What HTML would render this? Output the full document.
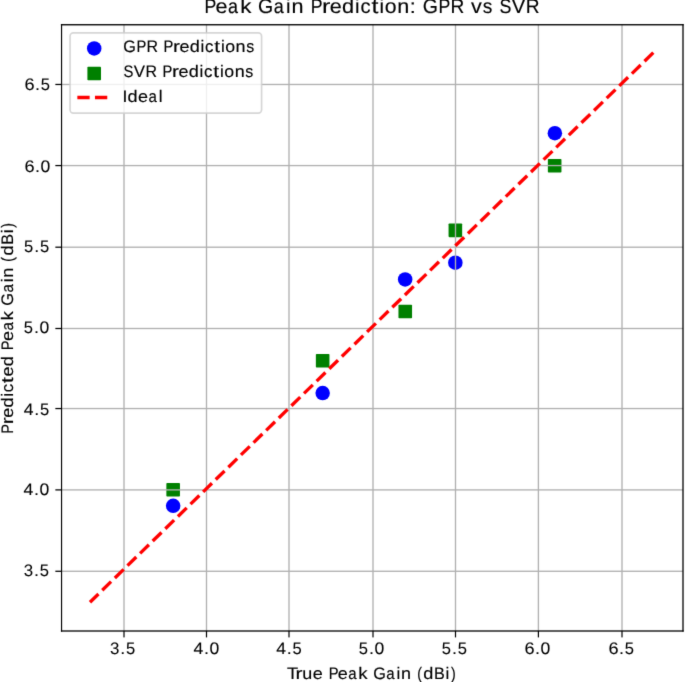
<!DOCTYPE html><html><head><meta charset="utf-8"><title>Peak Gain Prediction: GPR vs SVR</title><style>html,body{margin:0;padding:0;background:#fff;overflow:hidden;}svg{display:block;will-change:transform;}text{text-rendering:geometricPrecision;font-family:"Liberation Sans",sans-serif;fill:#000;stroke:#000;stroke-width:0.15px;}text.t{stroke-width:0.08px;}</style></head><body>
<svg width="685" height="682" viewBox="0 0 685 682">
<defs><filter id="soft" x="0" y="0" width="685" height="682" filterUnits="userSpaceOnUse" color-interpolation-filters="sRGB"><feConvolveMatrix order="3" kernelMatrix="0.0100 0.0800 0.0100 0.0800 0.6400 0.0800 0.0100 0.0800 0.0100" divisor="1" edgeMode="duplicate" preserveAlpha="true"/></filter></defs>
<g filter="url(#soft)">
<rect x="0" y="0" width="685" height="682" fill="#fff"/>
<circle cx="173.16" cy="505.77" r="7.25" fill="#0000ff"/>
<circle cx="322.66" cy="393.03" r="7.25" fill="#0000ff"/>
<circle cx="405.16" cy="279.40" r="7.25" fill="#0000ff"/>
<circle cx="455.36" cy="262.63" r="7.25" fill="#0000ff"/>
<circle cx="554.86" cy="133.22" r="7.25" fill="#0000ff"/>
<rect x="166.36" y="482.99" width="13.6" height="13.6" rx="0.8" fill="#008000"/>
<rect x="315.86" y="353.88" width="13.6" height="13.6" rx="0.8" fill="#008000"/>
<rect x="398.46" y="304.75" width="13.6" height="13.6" rx="0.8" fill="#008000"/>
<rect x="448.56" y="223.57" width="13.6" height="13.6" rx="0.8" fill="#008000"/>
<rect x="547.86" y="158.97" width="13.6" height="13.6" rx="0.8" fill="#008000"/>
<g>
<rect x="123.335" y="24.75" width="1.330" height="606.25" fill="#b0b0b0"/>
<rect x="205.835" y="24.75" width="1.330" height="606.25" fill="#b0b0b0"/>
<rect x="288.335" y="24.75" width="1.330" height="606.25" fill="#b0b0b0"/>
<rect x="372.335" y="24.75" width="1.330" height="606.25" fill="#b0b0b0"/>
<rect x="454.835" y="24.75" width="1.330" height="606.25" fill="#b0b0b0"/>
<rect x="537.735" y="24.75" width="1.330" height="606.25" fill="#b0b0b0"/>
<rect x="621.335" y="24.75" width="1.330" height="606.25" fill="#b0b0b0"/>
<rect x="61.55" y="83.805" width="621.45" height="1.330" fill="#b0b0b0"/>
<rect x="61.55" y="164.905" width="621.45" height="1.330" fill="#b0b0b0"/>
<rect x="61.55" y="246.535" width="621.45" height="1.330" fill="#b0b0b0"/>
<rect x="61.55" y="327.835" width="621.45" height="1.330" fill="#b0b0b0"/>
<rect x="61.55" y="407.885" width="621.45" height="1.330" fill="#b0b0b0"/>
<rect x="61.55" y="489.235" width="621.45" height="1.330" fill="#b0b0b0"/>
<rect x="61.55" y="570.615" width="621.45" height="1.330" fill="#b0b0b0"/>
<rect x="123.400" y="631.00" width="1.200" height="6.40" fill="#000"/>
<rect x="205.900" y="631.00" width="1.200" height="6.40" fill="#000"/>
<rect x="288.400" y="631.00" width="1.200" height="6.40" fill="#000"/>
<rect x="372.400" y="631.00" width="1.200" height="6.40" fill="#000"/>
<rect x="454.900" y="631.00" width="1.200" height="6.40" fill="#000"/>
<rect x="537.800" y="631.00" width="1.200" height="6.40" fill="#000"/>
<rect x="621.400" y="631.00" width="1.200" height="6.40" fill="#000"/>
<rect x="55.35" y="83.845" width="6.20" height="1.250" fill="#000"/>
<rect x="55.35" y="164.945" width="6.20" height="1.250" fill="#000"/>
<rect x="55.35" y="246.575" width="6.20" height="1.250" fill="#000"/>
<rect x="55.35" y="327.875" width="6.20" height="1.250" fill="#000"/>
<rect x="55.35" y="407.925" width="6.20" height="1.250" fill="#000"/>
<rect x="55.35" y="489.275" width="6.20" height="1.250" fill="#000"/>
<rect x="55.35" y="570.655" width="6.20" height="1.250" fill="#000"/>
</g>
<path d="M90.0 602.2L654.0 52.0" stroke="#ff0000" stroke-width="3.33" stroke-dasharray="12.299 5.318" stroke-dashoffset="0.5" fill="none"/>
<rect x="60.975" y="24.10" width="1.150" height="607.55" fill="#000"/>
<rect x="682.350" y="24.10" width="1.300" height="607.55" fill="#000"/>
<rect x="60.90" y="24.075" width="622.75" height="1.350" fill="#000"/>
<rect x="60.90" y="630.350" width="622.75" height="1.300" fill="#000"/>
<text y="654.00" font-size="16.67" class="t"><tspan x="110.08" textLength="9.38" lengthAdjust="spacingAndGlyphs">3</tspan><tspan x="120.20" textLength="5.01" lengthAdjust="spacingAndGlyphs">.</tspan><tspan x="125.98" textLength="9.22" lengthAdjust="spacingAndGlyphs">5</tspan></text>
<text y="654.00" font-size="16.67" class="t"><tspan x="193.62" textLength="9.77" lengthAdjust="spacingAndGlyphs">4</tspan><tspan x="203.95" textLength="5.01" lengthAdjust="spacingAndGlyphs">.</tspan><tspan x="209.52" textLength="9.77" lengthAdjust="spacingAndGlyphs">0</tspan></text>
<text y="654.00" font-size="16.67" class="t"><tspan x="276.37" textLength="9.77" lengthAdjust="spacingAndGlyphs">4</tspan><tspan x="286.70" textLength="5.01" lengthAdjust="spacingAndGlyphs">.</tspan><tspan x="292.48" textLength="9.22" lengthAdjust="spacingAndGlyphs">5</tspan></text>
<text y="654.00" font-size="16.67" class="t"><tspan x="358.83" textLength="9.22" lengthAdjust="spacingAndGlyphs">5</tspan><tspan x="368.95" textLength="5.01" lengthAdjust="spacingAndGlyphs">.</tspan><tspan x="374.52" textLength="9.77" lengthAdjust="spacingAndGlyphs">0</tspan></text>
<text y="654.00" font-size="16.67" class="t"><tspan x="441.83" textLength="9.22" lengthAdjust="spacingAndGlyphs">5</tspan><tspan x="451.95" textLength="5.01" lengthAdjust="spacingAndGlyphs">.</tspan><tspan x="457.73" textLength="9.22" lengthAdjust="spacingAndGlyphs">5</tspan></text>
<text y="654.00" font-size="16.67" class="t"><tspan x="524.45" textLength="10.11" lengthAdjust="spacingAndGlyphs">6</tspan><tspan x="534.95" textLength="5.01" lengthAdjust="spacingAndGlyphs">.</tspan><tspan x="540.52" textLength="9.77" lengthAdjust="spacingAndGlyphs">0</tspan></text>
<text y="654.00" font-size="16.67" class="t"><tspan x="608.45" textLength="10.11" lengthAdjust="spacingAndGlyphs">6</tspan><tspan x="618.95" textLength="5.01" lengthAdjust="spacingAndGlyphs">.</tspan><tspan x="624.73" textLength="9.22" lengthAdjust="spacingAndGlyphs">5</tspan></text>
<text y="90.00" font-size="16.67" class="t"><tspan x="24.43" textLength="10.11" lengthAdjust="spacingAndGlyphs">6</tspan><tspan x="34.93" textLength="5.01" lengthAdjust="spacingAndGlyphs">.</tspan><tspan x="40.72" textLength="9.22" lengthAdjust="spacingAndGlyphs">5</tspan></text>
<text y="172.00" font-size="16.67" class="t"><tspan x="24.43" textLength="10.11" lengthAdjust="spacingAndGlyphs">6</tspan><tspan x="34.93" textLength="5.01" lengthAdjust="spacingAndGlyphs">.</tspan><tspan x="40.51" textLength="9.77" lengthAdjust="spacingAndGlyphs">0</tspan></text>
<text y="252.00" font-size="16.67" class="t"><tspan x="24.07" textLength="9.22" lengthAdjust="spacingAndGlyphs">5</tspan><tspan x="34.18" textLength="5.01" lengthAdjust="spacingAndGlyphs">.</tspan><tspan x="39.97" textLength="9.22" lengthAdjust="spacingAndGlyphs">5</tspan></text>
<text y="333.00" font-size="16.67" class="t"><tspan x="23.82" textLength="9.22" lengthAdjust="spacingAndGlyphs">5</tspan><tspan x="33.93" textLength="5.01" lengthAdjust="spacingAndGlyphs">.</tspan><tspan x="39.51" textLength="9.77" lengthAdjust="spacingAndGlyphs">0</tspan></text>
<text y="415.00" font-size="16.67" class="t"><tspan x="23.85" textLength="9.77" lengthAdjust="spacingAndGlyphs">4</tspan><tspan x="34.18" textLength="5.01" lengthAdjust="spacingAndGlyphs">.</tspan><tspan x="39.97" textLength="9.22" lengthAdjust="spacingAndGlyphs">5</tspan></text>
<text y="495.00" font-size="16.67" class="t"><tspan x="23.60" textLength="9.77" lengthAdjust="spacingAndGlyphs">4</tspan><tspan x="33.93" textLength="5.01" lengthAdjust="spacingAndGlyphs">.</tspan><tspan x="39.51" textLength="9.77" lengthAdjust="spacingAndGlyphs">0</tspan></text>
<text y="576.00" font-size="16.67" class="t"><tspan x="23.82" textLength="9.38" lengthAdjust="spacingAndGlyphs">3</tspan><tspan x="33.93" textLength="5.01" lengthAdjust="spacingAndGlyphs">.</tspan><tspan x="39.72" textLength="9.22" lengthAdjust="spacingAndGlyphs">5</tspan></text>
<text y="679.00" font-size="16.67"><tspan x="287.09" textLength="11.10" lengthAdjust="spacingAndGlyphs">T</tspan><tspan x="295.43" textLength="6.94" lengthAdjust="spacingAndGlyphs">r</tspan><tspan x="302.33" textLength="9.99" lengthAdjust="spacingAndGlyphs">u</tspan><tspan x="312.80" textLength="10.01" lengthAdjust="spacingAndGlyphs">e</tspan><tspan x="322.90"> </tspan><tspan x="328.63" textLength="9.83" lengthAdjust="spacingAndGlyphs">P</tspan><tspan x="337.78" textLength="10.01" lengthAdjust="spacingAndGlyphs">e</tspan><tspan x="348.24" textLength="8.34" lengthAdjust="spacingAndGlyphs">a</tspan><tspan x="358.35" textLength="9.32" lengthAdjust="spacingAndGlyphs">k</tspan><tspan x="367.74"> </tspan><tspan x="373.16" textLength="12.64" lengthAdjust="spacingAndGlyphs">G</tspan><tspan x="386.32" textLength="8.34" lengthAdjust="spacingAndGlyphs">a</tspan><tspan x="396.60" textLength="3.79" lengthAdjust="spacingAndGlyphs">i</tspan><tspan x="401.12" textLength="9.99" lengthAdjust="spacingAndGlyphs">n</tspan><tspan x="411.36"> </tspan><tspan x="417.22" textLength="4.69" lengthAdjust="spacingAndGlyphs">(</tspan><tspan x="423.32" textLength="10.07" lengthAdjust="spacingAndGlyphs">d</tspan><tspan x="434.05" textLength="10.80" lengthAdjust="spacingAndGlyphs">B</tspan><tspan x="445.61" textLength="3.79" lengthAdjust="spacingAndGlyphs">i</tspan><tspan x="451.06" textLength="4.69" lengthAdjust="spacingAndGlyphs">)</tspan></text>
<text transform="translate(13.00 0.00) rotate(-90)" y="0.00" font-size="16.67"><tspan x="-433.81" textLength="9.83" lengthAdjust="spacingAndGlyphs">P</tspan><tspan x="-424.24" textLength="6.94" lengthAdjust="spacingAndGlyphs">r</tspan><tspan x="-417.81" textLength="10.01" lengthAdjust="spacingAndGlyphs">e</tspan><tspan x="-407.55" textLength="10.07" lengthAdjust="spacingAndGlyphs">d</tspan><tspan x="-396.70" textLength="3.79" lengthAdjust="spacingAndGlyphs">i</tspan><tspan x="-392.29" textLength="8.36" lengthAdjust="spacingAndGlyphs">c</tspan><tspan x="-383.02" textLength="5.79" lengthAdjust="spacingAndGlyphs">t</tspan><tspan x="-376.64" textLength="10.01" lengthAdjust="spacingAndGlyphs">e</tspan><tspan x="-366.39" textLength="10.07" lengthAdjust="spacingAndGlyphs">d</tspan><tspan x="-355.97"> </tspan><tspan x="-350.24" textLength="9.83" lengthAdjust="spacingAndGlyphs">P</tspan><tspan x="-341.09" textLength="10.01" lengthAdjust="spacingAndGlyphs">e</tspan><tspan x="-330.62" textLength="8.34" lengthAdjust="spacingAndGlyphs">a</tspan><tspan x="-320.52" textLength="9.32" lengthAdjust="spacingAndGlyphs">k</tspan><tspan x="-311.12"> </tspan><tspan x="-305.71" textLength="12.64" lengthAdjust="spacingAndGlyphs">G</tspan><tspan x="-292.54" textLength="8.34" lengthAdjust="spacingAndGlyphs">a</tspan><tspan x="-282.26" textLength="3.79" lengthAdjust="spacingAndGlyphs">i</tspan><tspan x="-277.74" textLength="9.99" lengthAdjust="spacingAndGlyphs">n</tspan><tspan x="-267.50"> </tspan><tspan x="-261.64" textLength="4.69" lengthAdjust="spacingAndGlyphs">(</tspan><tspan x="-255.54" textLength="10.07" lengthAdjust="spacingAndGlyphs">d</tspan><tspan x="-244.81" textLength="10.80" lengthAdjust="spacingAndGlyphs">B</tspan><tspan x="-233.26" textLength="3.79" lengthAdjust="spacingAndGlyphs">i</tspan><tspan x="-227.80" textLength="4.69" lengthAdjust="spacingAndGlyphs">)</tspan></text>
<text y="13.00" font-size="20.00"><tspan x="204.55" textLength="11.80" lengthAdjust="spacingAndGlyphs">P</tspan><tspan x="215.54" textLength="12.01" lengthAdjust="spacingAndGlyphs">e</tspan><tspan x="228.09" textLength="10.00" lengthAdjust="spacingAndGlyphs">a</tspan><tspan x="240.22" textLength="11.18" lengthAdjust="spacingAndGlyphs">k</tspan><tspan x="251.49"> </tspan><tspan x="257.99" textLength="15.17" lengthAdjust="spacingAndGlyphs">G</tspan><tspan x="273.79" textLength="10.00" lengthAdjust="spacingAndGlyphs">a</tspan><tspan x="286.12" textLength="4.54" lengthAdjust="spacingAndGlyphs">i</tspan><tspan x="291.55" textLength="11.99" lengthAdjust="spacingAndGlyphs">n</tspan><tspan x="303.84"> </tspan><tspan x="310.71" textLength="11.80" lengthAdjust="spacingAndGlyphs">P</tspan><tspan x="322.11" textLength="8.33" lengthAdjust="spacingAndGlyphs">r</tspan><tspan x="329.79" textLength="12.01" lengthAdjust="spacingAndGlyphs">e</tspan><tspan x="342.10" textLength="12.09" lengthAdjust="spacingAndGlyphs">d</tspan><tspan x="355.12" textLength="4.54" lengthAdjust="spacingAndGlyphs">i</tspan><tspan x="360.41" textLength="10.03" lengthAdjust="spacingAndGlyphs">c</tspan><tspan x="371.53" textLength="6.95" lengthAdjust="spacingAndGlyphs">t</tspan><tspan x="379.51" textLength="4.54" lengthAdjust="spacingAndGlyphs">i</tspan><tspan x="384.76" textLength="11.82" lengthAdjust="spacingAndGlyphs">o</tspan><tspan x="397.17" textLength="11.99" lengthAdjust="spacingAndGlyphs">n</tspan><tspan x="409.83" textLength="6.01" lengthAdjust="spacingAndGlyphs">:</tspan><tspan x="416.20"> </tspan><tspan x="422.70" textLength="15.17" lengthAdjust="spacingAndGlyphs">G</tspan><tspan x="438.57" textLength="11.80" lengthAdjust="spacingAndGlyphs">P</tspan><tspan x="450.51" textLength="13.81" lengthAdjust="spacingAndGlyphs">R</tspan><tspan x="464.02"> </tspan><tspan x="470.90" textLength="10.79" lengthAdjust="spacingAndGlyphs">v</tspan><tspan x="482.76" textLength="9.59" lengthAdjust="spacingAndGlyphs">s</tspan><tspan x="492.63"> </tspan><tspan x="499.50" textLength="11.89" lengthAdjust="spacingAndGlyphs">S</tspan><tspan x="511.75" textLength="13.54" lengthAdjust="spacingAndGlyphs">V</tspan><tspan x="525.76" textLength="13.81" lengthAdjust="spacingAndGlyphs">R</tspan></text>
<rect x="70.05" y="32.9" width="191.55" height="80.25" rx="3.33" fill="#ffffff" fill-opacity="0.8" stroke="#cccccc" stroke-opacity="0.8" stroke-width="1.667"/>
<circle cx="94.2" cy="48.4" r="7.25" fill="#0000ff"/>
<rect x="87.40" y="66.70" width="13.6" height="13.6" rx="0.8" fill="#008000"/>
<path d="M77.35 97.5H110.55" stroke="#ff0000" stroke-width="3.33" stroke-dasharray="12.299 5.318" fill="none"/>
<text y="52.00" font-size="16.67"><tspan x="123.32" textLength="12.64" lengthAdjust="spacingAndGlyphs">G</tspan><tspan x="136.54" textLength="9.83" lengthAdjust="spacingAndGlyphs">P</tspan><tspan x="146.49" textLength="11.51" lengthAdjust="spacingAndGlyphs">R</tspan><tspan x="157.75"> </tspan><tspan x="163.47" textLength="9.83" lengthAdjust="spacingAndGlyphs">P</tspan><tspan x="173.04" textLength="6.94" lengthAdjust="spacingAndGlyphs">r</tspan><tspan x="179.48" textLength="10.01" lengthAdjust="spacingAndGlyphs">e</tspan><tspan x="189.74" textLength="10.07" lengthAdjust="spacingAndGlyphs">d</tspan><tspan x="200.59" textLength="3.79" lengthAdjust="spacingAndGlyphs">i</tspan><tspan x="205.00" textLength="8.36" lengthAdjust="spacingAndGlyphs">c</tspan><tspan x="214.27" textLength="5.79" lengthAdjust="spacingAndGlyphs">t</tspan><tspan x="220.92" textLength="3.79" lengthAdjust="spacingAndGlyphs">i</tspan><tspan x="225.29" textLength="9.85" lengthAdjust="spacingAndGlyphs">o</tspan><tspan x="235.63" textLength="9.99" lengthAdjust="spacingAndGlyphs">n</tspan><tspan x="246.34" textLength="7.99" lengthAdjust="spacingAndGlyphs">s</tspan></text>
<text y="77.00" font-size="16.67"><tspan x="123.62" textLength="9.91" lengthAdjust="spacingAndGlyphs">S</tspan><tspan x="133.84" textLength="11.28" lengthAdjust="spacingAndGlyphs">V</tspan><tspan x="145.51" textLength="11.51" lengthAdjust="spacingAndGlyphs">R</tspan><tspan x="156.76"> </tspan><tspan x="162.49" textLength="9.83" lengthAdjust="spacingAndGlyphs">P</tspan><tspan x="172.06" textLength="6.94" lengthAdjust="spacingAndGlyphs">r</tspan><tspan x="178.49" textLength="10.01" lengthAdjust="spacingAndGlyphs">e</tspan><tspan x="188.75" textLength="10.07" lengthAdjust="spacingAndGlyphs">d</tspan><tspan x="199.60" textLength="3.79" lengthAdjust="spacingAndGlyphs">i</tspan><tspan x="204.01" textLength="8.36" lengthAdjust="spacingAndGlyphs">c</tspan><tspan x="213.28" textLength="5.79" lengthAdjust="spacingAndGlyphs">t</tspan><tspan x="219.93" textLength="3.79" lengthAdjust="spacingAndGlyphs">i</tspan><tspan x="224.31" textLength="9.85" lengthAdjust="spacingAndGlyphs">o</tspan><tspan x="234.65" textLength="9.99" lengthAdjust="spacingAndGlyphs">n</tspan><tspan x="245.35" textLength="7.99" lengthAdjust="spacingAndGlyphs">s</tspan></text>
<text y="102.00" font-size="16.67"><tspan x="122.46" textLength="4.90" lengthAdjust="spacingAndGlyphs">I</tspan><tspan x="127.52" textLength="10.07" lengthAdjust="spacingAndGlyphs">d</tspan><tspan x="138.10" textLength="10.01" lengthAdjust="spacingAndGlyphs">e</tspan><tspan x="148.56" textLength="8.34" lengthAdjust="spacingAndGlyphs">a</tspan><tspan x="158.84" textLength="3.79" lengthAdjust="spacingAndGlyphs">l</tspan></text>
</g></svg></body></html>
